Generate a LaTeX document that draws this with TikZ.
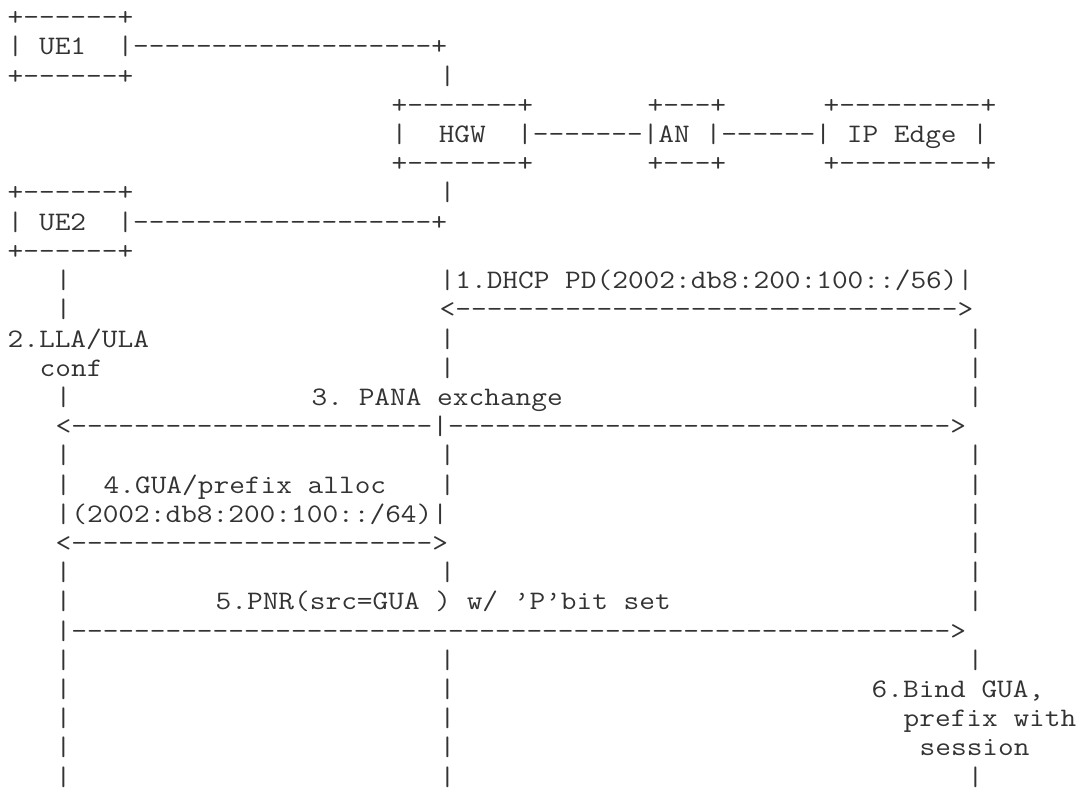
\documentclass[tikz,border=0pt]{standalone}
\usepackage{fontspec}
\usepackage{tikz}
\newfontfamily\asciifont[FakeStretch=1.1414,Ligatures=TeXOff]{Latin Modern Mono}

\begin{document}
\begin{tikzpicture}[
  x=16pt, y=-29.2pt,
  ln/.style={
    anchor=base west,
    inner sep=0pt,
    text=black!80,
    font=\asciifont\fontsize{26.7pt}{29.2pt}\selectfont
  }
]
\path[use as bounding box] (0pt,0pt) rectangle (1083pt,-794pt);

\begin{scope}[shift={(7.5pt,-25.8pt)}]
% boxes and links
\node[ln] (ue1top) at (0,0) {+------+};
\node[ln] (ue1) at (0,1) {|~UE1~~|-------------------+};
\node[ln] (ue1bot) at (0,2) {+------+};
\node[ln] (up) at (27,2) {|};
\node[ln] (hgwtop) at (24,3) {+-------+};
\node[ln] (antop) at (40,3) {+---+};
\node[ln] (edgetop) at (51,3) {+---------+};
\node[ln] (hgw) at (24,4) {|~~HGW~~|-------|AN~|------|~IP~Edge~|};
\node[ln] (hgwbot) at (24,5) {+-------+};
\node[ln] (anbot) at (40,5) {+---+};
\node[ln] (edgebot) at (51,5) {+---------+};
\node[ln] (ue2top) at (0,6) {+------+};
\node[ln] (down) at (27,6) {|};
\node[ln] (ue2) at (0,7) {|~UE2~~|-------------------+};
\node[ln] (ue2bot) at (0,8) {+------+};

% 1. DHCP PD
\node[ln] (l9) at (3,9) {|};
\node[ln] (dhcp) at (27,9) {|1.DHCP~PD(2002:db8:200:100::/56)|};
\node[ln] (l10) at (3,10) {|};
\node[ln] (dhcparr) at (27,10) {<-------------------------------->};

% 2. LLA/ULA
\node[ln] (lla) at (0,11) {2.LLA/ULA};
\node[ln] (m11) at (27,11) {|};
\node[ln] (r11) at (60,11) {|};
\node[ln] (conf) at (2,12) {conf};
\node[ln] (m12) at (27,12) {|};
\node[ln] (r12) at (60,12) {|};

% 3. PANA
\node[ln] (l13) at (3,13) {|};
\node[ln] (pana) at (19,13) {3.~PANA~exchange};
\node[ln] (r13) at (60,13) {|};
\node[ln] (panaarr) at (3,14) {<-----------------------|-------------------------------->};
\node[ln] (l15) at (3,15) {|};
\node[ln] (m15) at (27,15) {|};
\node[ln] (r15) at (60,15) {|};

% 4. GUA/prefix
\node[ln] (l16) at (3,16) {|};
\node[ln] (gua) at (6,16) {4.GUA/prefix~alloc};
\node[ln] (m16) at (27,16) {|};
\node[ln] (r16) at (60,16) {|};
\node[ln] (prefix) at (3,17) {|(2002:db8:200:100::/64)|};
\node[ln] (r17) at (60,17) {|};
\node[ln] (guaarr) at (3,18) {<----------------------->};
\node[ln] (r18) at (60,18) {|};
\node[ln] (l19) at (3,19) {|};
\node[ln] (m19) at (27,19) {|};
\node[ln] (r19) at (60,19) {|};

% 5. PNR
\node[ln] (l20) at (3,20) {|};
\node[ln] (pnr) at (13,20) {5.PNR(src=GUA~)~w/~’P’bit~set};
\node[ln] (r20) at (60,20) {|};
\node[ln] (pnrarr) at (3,21) {|-------------------------------------------------------->};
\node[ln] (l22) at (3,22) {|};
\node[ln] (m22) at (27,22) {|};
\node[ln] (r22) at (60,22) {|};

% 6. bind
\node[ln] (l23) at (3,23) {|};
\node[ln] (m23) at (27,23) {|};
\node[ln] (bind) at (54,23) {6.Bind~GUA,};
\node[ln] (l24) at (3,24) {|};
\node[ln] (m24) at (27,24) {|};
\node[ln] (bind2) at (56,24) {prefix~with};
\node[ln] (l25) at (3,25) {|};
\node[ln] (m25) at (27,25) {|};
\node[ln] (bind3) at (57,25) {session};
\node[ln] (l26) at (3,26) {|};
\node[ln] (m26) at (27,26) {|};
\node[ln] (r26) at (60,26) {|};
\end{scope}
\end{tikzpicture}
\end{document}
